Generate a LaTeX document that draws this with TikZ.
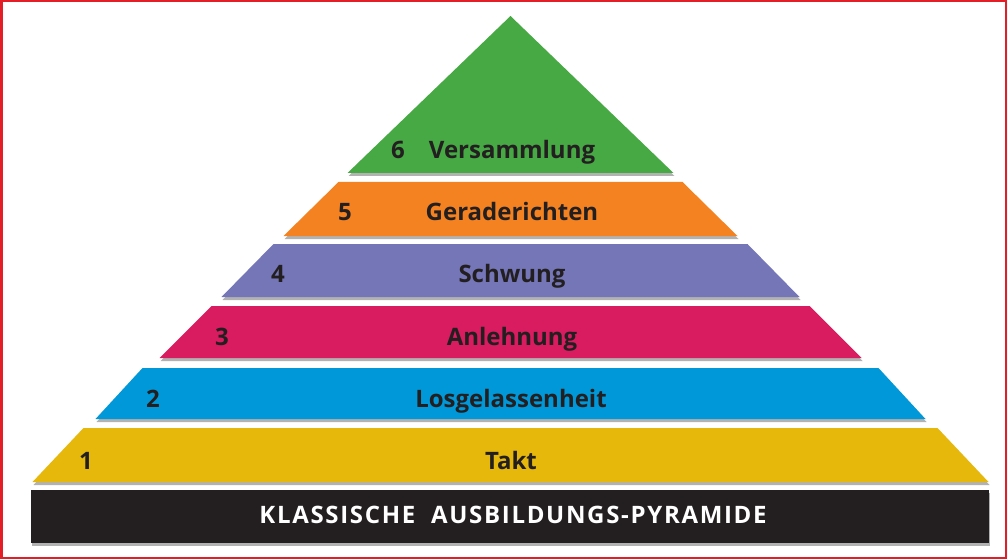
\documentclass[tikz,border=0pt]{standalone}
\usepackage{fontspec}
\setmainfont{Open Sans}
\newfontfamily\barfont[LetterSpace=7]{Open Sans}
\usetikzlibrary{shadows}

\definecolor{pgreen}{HTML}{46A944}
\definecolor{porange}{HTML}{F58220}
\definecolor{ppurple}{HTML}{7476B8}
\definecolor{pmagenta}{HTML}{D91B5F}
\definecolor{pblue}{HTML}{0098D8}
\definecolor{pyellow}{HTML}{E5B80B}
\definecolor{pblack}{HTML}{231F20}
\definecolor{pred}{HTML}{E41E26}

\tikzstyle{layer} = [drop shadow={shadow xshift=1pt, shadow yshift=-3pt, opacity=0.3, fill=black}]
\tikzstyle{stufe} = [font=\fontsize{24}{28}\selectfont\bfseries, text=pblack, anchor=base, inner sep=0pt]
\tikzstyle{titel} = [font=\fontsize{24}{28}\selectfont\barfont\bfseries, text=white, anchor=base, inner sep=0pt]

\begin{document}
\begin{tikzpicture}[x=1pt, y=1pt, yscale=-1]

\useasboundingbox (0,0) rectangle (1007,559);
\fill[white] (0,0) rectangle (1007,559);

% layers, bottom to top
\fill[layer, pblack] (31,490) rectangle (989,543);
\fill[layer, pyellow] (83.5,428) -- (937.5,428) -- (988.5,482) -- (32.5,482) -- cycle;
\fill[layer, pblue] (142.5,368) -- (878.5,368) -- (925.5,419) -- (95.5,419) -- cycle;
\fill[layer, pmagenta] (211.5,306) -- (809.5,306) -- (861.5,358) -- (159.5,358) -- cycle;
\fill[layer, ppurple] (273.5,244) -- (747.5,244) -- (799.5,297) -- (221.5,297) -- cycle;
\fill[layer, porange] (338.5,182) -- (682.5,182) -- (737.5,236) -- (283.5,236) -- cycle;
\fill[layer, pgreen] (510.5,16) -- (673.5,173) -- (347.5,173) -- cycle;

% numbers
\node[stufe] (n6) at (398,159) {6};
\node[stufe] (n5) at (345,220) {5};
\node[stufe] (n4) at (278,282) {4};
\node[stufe] (n3) at (222,345) {3};
\node[stufe] (n2) at (153,407) {2};
\node[stufe] (n1) at (86,469) {1};

% labels
\node[stufe] (versammlung) at (512,159) {Versammlung};
\node[stufe] (gerade) at (512,220) {Geraderichten};
\node[stufe] (schwung) at (512,282) {Schwung};
\node[stufe] (anlehnung) at (512,345) {Anlehnung};
\node[stufe] (losgelassen) at (511,407) {Losgelassenheit};
\node[stufe] (takt) at (511,469) {Takt};

\node[titel] (title) at (513,523) {KLASSISCHE\ \ AUSBILDUNGS-PYRAMIDE};

\draw[pred, line width=2.5pt] (1.25,1.25) rectangle (1005.75,557.75);

\end{tikzpicture}
\end{document}
